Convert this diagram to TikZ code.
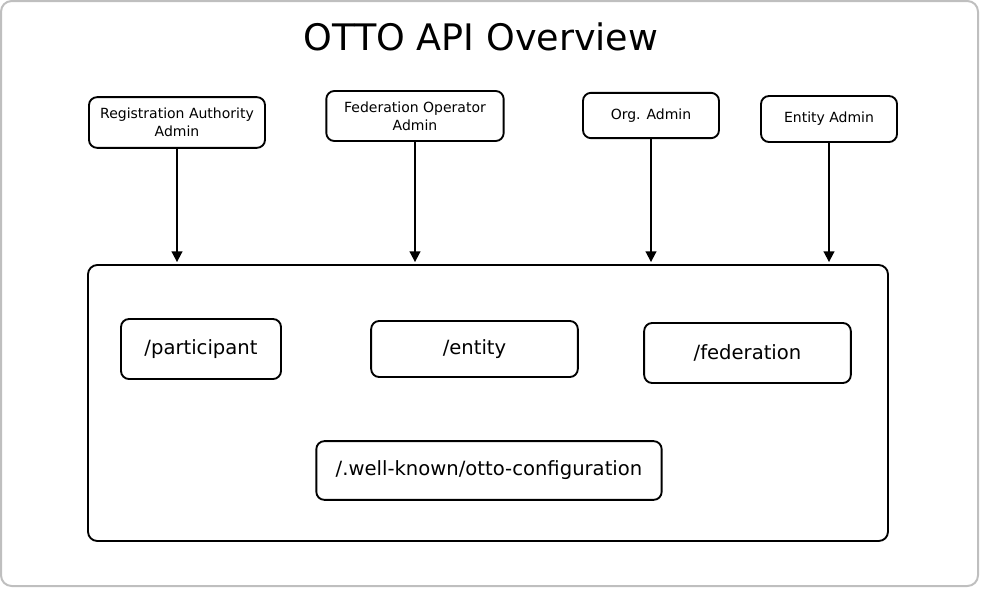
\documentclass[tikz,border=0pt]{standalone}
\usepackage{fontspec}
\setmainfont{DejaVu Sans}
\usetikzlibrary{arrows.meta}

\begin{document}
\begin{tikzpicture}[
  x=0.75pt,y=-0.75pt,
  role/.style={rectangle,draw,line width=1.4pt,rounded corners=6pt,align=center,font=\fontsize{10.5}{13.5}\selectfont,inner sep=0pt},
  path/.style={rectangle,draw,line width=1.4pt,rounded corners=6pt,align=center,font=\fontsize{14.7}{17}\selectfont,inner sep=0pt},
  arrow/.style={-{Triangle[length=8pt,width=8pt]},line width=1.4pt,shorten >=1.5pt},
]
\useasboundingbox (0,0) rectangle (982,590);
\draw[gray!50,line width=1.5pt,rounded corners=8pt] (1,1) rectangle (978,586);

\node[font=\fontsize{27.4}{32}\selectfont] (title) at (481,37) {OTTO API Overview};

% admins
\node[role,minimum width=132pt,minimum height=38pt] (ra) at (177,122.5) {Registration Authority\\Admin};
\node[role,minimum width=133pt,minimum height=37.5pt] (fo) at (415,116) {Federation Operator\\Admin};
\node[role,minimum width=102pt,minimum height=34pt] (org) at (651,115.5) {Org. Admin};
\node[role,minimum width=102pt,minimum height=34.5pt] (ent) at (829,119) {Entity Admin};

% api
\node[rectangle,draw,line width=1.4pt,rounded corners=7pt,minimum width=600pt,minimum height=207pt,inner sep=0pt] (api) at (488,403) {};
\node[path,minimum width=120pt,minimum height=45pt] (part) at (201,349) {/participant};
\node[path,minimum width=155pt,minimum height=42pt] (enty) at (474.5,349) {/entity};
\node[path,minimum width=155pt,minimum height=45pt] (fed) at (747.5,353) {/federation};
\node[path,minimum width=259pt,minimum height=44pt] (conf) at (489,470.5) {/.well-known/otto-configuration};

\draw[arrow] (ra) -- (ra |- api.north);
\draw[arrow] (fo) -- (fo |- api.north);
\draw[arrow] (org) -- (org |- api.north);
\draw[arrow] (ent) -- (ent |- api.north);
\end{tikzpicture}
\end{document}
